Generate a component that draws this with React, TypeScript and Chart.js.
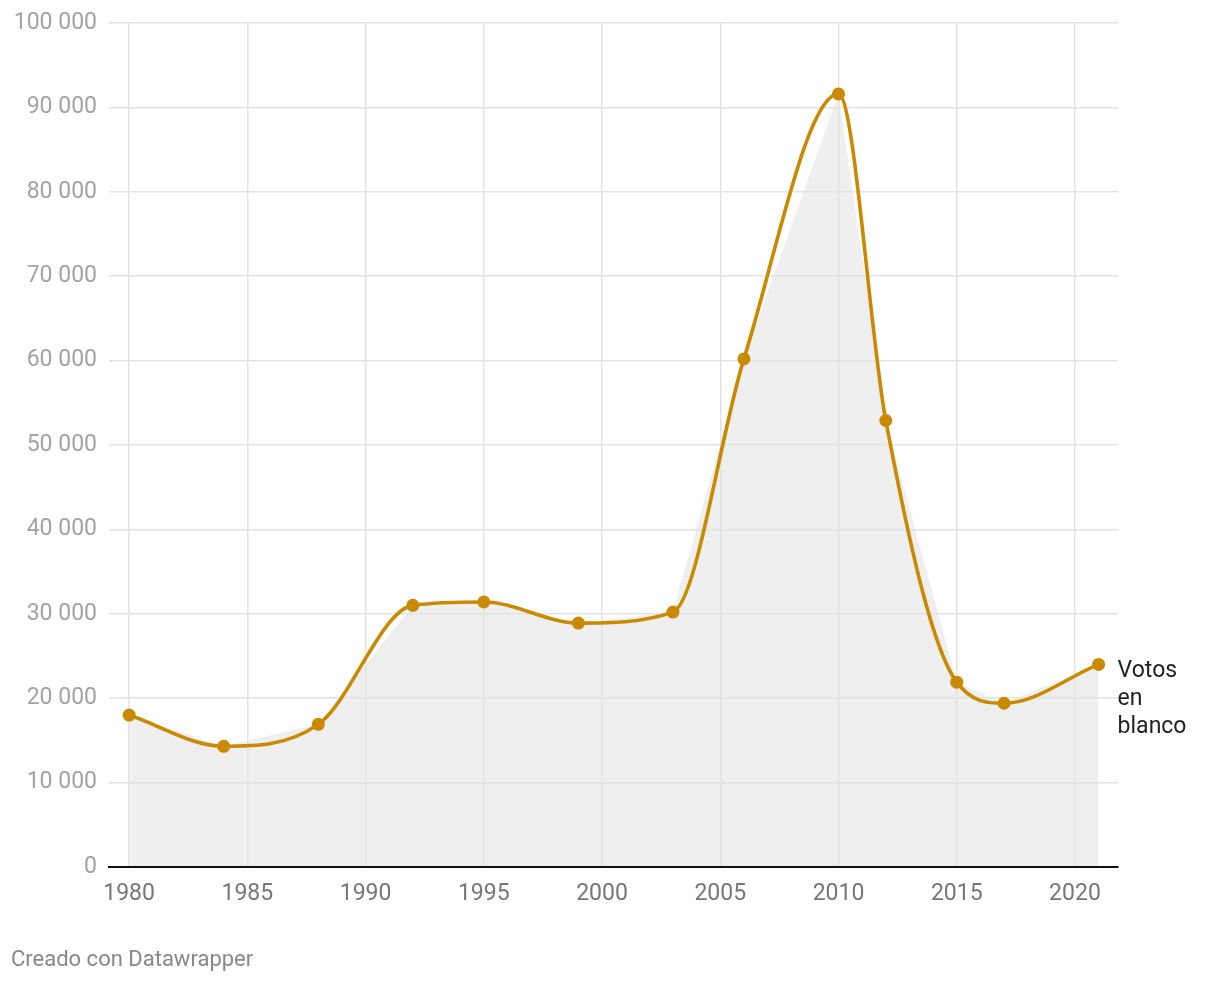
import React, { useEffect, useRef } from "react";
import { Chart, registerables } from "chart.js";

Chart.register(...registerables);

const years = [1980, 1984, 1988, 1992, 1995, 1999, 2003, 2006, 2010, 2012, 2015, 2017, 2021];
const votes = [18000, 14300, 16900, 31000, 31400, 28900, 30200, 60200, 91600, 52900, 21900, 19400, 24000];
const xTickValues = [1980, 1985, 1990, 1995, 2000, 2005, 2010, 2015, 2020];
const yTickValues = [0, 10000, 20000, 30000, 40000, 50000, 60000, 70000, 80000, 90000, 100000];
const seriesLabel = ["Votos", "en", "blanco"];
const footerText = "Creado con Datawrapper";

const LINE_COLOR = "#c98a02";
const FONT = "Roboto, 'Noto Sans', sans-serif";

const fmt = (v: number) => String(v).replace(/\B(?=(\d{3})+(?!\d))/g, " ");

const labelPlugin = {
  id: "seriesLabel",
  afterDatasetsDraw(chart: any) {
    const meta = chart.getDatasetMeta(1);
    const pts = meta.data;
    if (!pts || !pts.length) return;
    const last = pts[pts.length - 1];
    const ctx = chart.ctx;
    ctx.save();
    ctx.font = `23px ${FONT}`;
    ctx.fillStyle = "#222222";
    ctx.textAlign = "left";
    ctx.textBaseline = "alphabetic";
    seriesLabel.forEach((t, i) => {
      ctx.fillText(t, last.x + 19, last.y + 13 + i * 28);
    });
    ctx.restore();
  },
};

export default function App() {
  const ref = useRef<HTMLCanvasElement | null>(null);

  useEffect(() => {
    if (!ref.current) return;
    const points = years.map((x, i) => ({ x, y: votes[i] }));
    const chart = new Chart(ref.current, {
      type: "line",
      data: {
        datasets: [
          {
            data: points,
            borderWidth: 0,
            borderColor: "rgba(0,0,0,0)",
            backgroundColor: "#efefef",
            pointRadius: 0,
            tension: 0,
            fill: "origin",
          },
          {
            data: points,
            borderColor: LINE_COLOR,
            borderWidth: 3.6,
            backgroundColor: LINE_COLOR,
            pointBackgroundColor: LINE_COLOR,
            pointBorderColor: LINE_COLOR,
            pointBorderWidth: 0,
            pointRadius: 6.5,
            cubicInterpolationMode: "monotone",
            fill: false,
          },
        ],
      },
      options: {
        responsive: false,
        animation: false,
        events: [],
        layout: { padding: { left: 0, top: 23, right: 102, bottom: 75 } },
        plugins: {
          legend: { display: false },
          tooltip: { enabled: false },
          filler: { drawTime: "beforeDraw" },
        } as any,
        scales: {
          x: {
            type: "linear",
            min: 1979.15,
            max: 2021.82,
            afterBuildTicks: (scale: any) => {
              scale.ticks = xTickValues.map((v) => ({ value: v }));
            },
            afterFit: (scale: any) => {
              scale.height = 40;
              scale.paddingLeft = 0;
              scale.paddingRight = 0;
            },
            grid: { color: "#e3e3e3", lineWidth: 1.5, drawTicks: false },
            border: { display: true, color: "#111111", width: 2 },
            ticks: {
              autoSkip: false,
              maxRotation: 0,
              padding: 13,
              color: "#777777",
              font: { family: FONT, size: 23 },
              callback: (v: any) => String(v),
            },
          },
          y: {
            type: "linear",
            min: 0,
            max: 100000,
            afterBuildTicks: (scale: any) => {
              scale.ticks = yTickValues.map((v) => ({ value: v }));
            },
            afterFit: (scale: any) => {
              scale.width = 109;
              scale.paddingTop = 0;
              scale.paddingBottom = 0;
            },
            grid: { color: "#e3e3e3", lineWidth: 1.5, drawTicks: false },
            border: { display: false },
            ticks: {
              padding: 12,
              color: "#a3a3a3",
              font: { family: FONT, size: 23 },
              callback: (v: any) => fmt(Number(v)),
            },
          },
        },
      },
      plugins: [labelPlugin],
    });
    return () => chart.destroy();
  }, []);

  return (
    <div style={{ position: "absolute", left: 0, top: 0, width: 1220, height: 982, background: "#fff" }}>
      <canvas ref={ref} width={1220} height={982} style={{ width: 1220, height: 982, display: "block" }} />
      <div
        style={{
          position: "absolute",
          left: 11,
          top: 948,
          fontFamily: FONT,
          fontSize: 22,
          lineHeight: "21px",
          color: "#888888",
          whiteSpace: "nowrap",
        }}
      >
        {footerText}
      </div>
    </div>
  );
}
